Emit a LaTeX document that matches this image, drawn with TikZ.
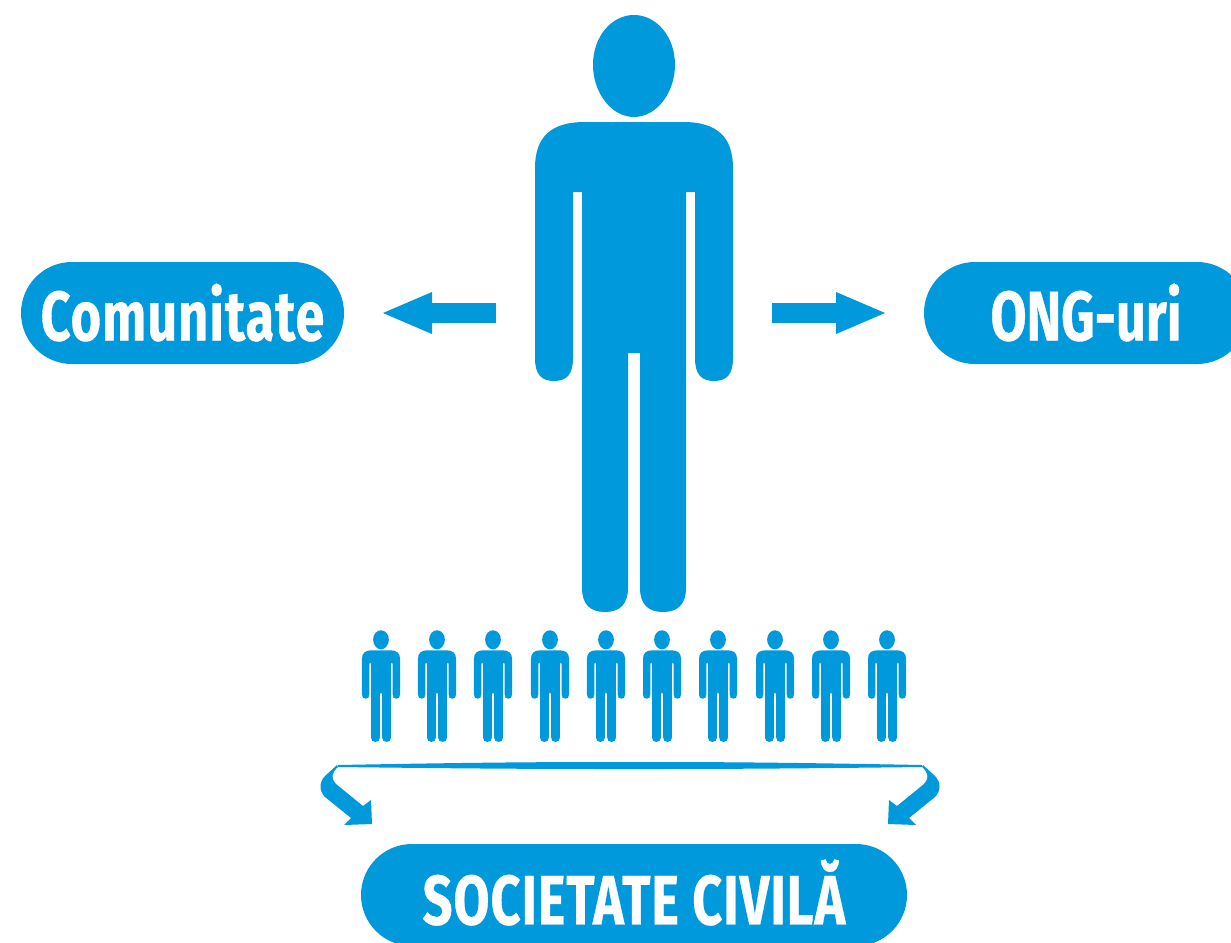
\documentclass[tikz,border=0pt]{standalone}
\usepackage{fontspec}
\usetikzlibrary{arrows.meta}
\newfontfamily\lblA[FakeStretch=0.745,FakeBold=0.5]{Fira Sans Bold}
\newfontfamily\lblB[FakeStretch=0.745,FakeBold=0.5,LetterSpace=1.5]{Fira Sans Bold}
\definecolor{ngo}{HTML}{0099DC}
\tikzset{
  pill/.style={fill=ngo,text=white,minimum height=102pt,rounded corners=51pt,inner sep=0pt,outer sep=0pt},
  blockarrow/.style={draw=ngo,line width=20pt,shorten >=39pt,shorten <=39pt,-{Triangle[length=49pt,width=42pt,line width=0pt,fill=ngo]}},
  swoosh/.style={fill=ngo,draw=none},
  person/.pic={
    \begin{scope}[shift={(-634,-313)}]
    \fill[ngo] (634,15) .. controls (656,15) and (675,36) .. (675,65) .. controls (675,92) and (657,117) .. (634,117) .. controls (611,117) and (593,92) .. (593,65) .. controls (593,36) and (612,15) .. (634,15) -- cycle;
    \fill[ngo] (585,122) -- (683,122) .. controls (716,122) and (733,136) .. (733,168) -- (733,358) .. controls (733,374) and (727,381) .. (714,381) .. controls (701,381) and (695,374) .. (695,358) -- (695,192) -- (686,192) -- (686,588) .. controls (686,604) and (678,612) .. (663,612) .. controls (648,612) and (640,604) .. (640,588) -- (640,353) -- (628,353) -- (628,588) .. controls (628,604) and (620,612) .. (605,612) .. controls (590,612) and (582,604) .. (582,588) -- (582,192) -- (573,192) -- (573,358) .. controls (573,374) and (567,381) .. (554,381) .. controls (541,381) and (535,374) .. (535,358) -- (535,168) .. controls (535,136) and (552,122) .. (585,122) -- cycle;
    \end{scope}
  }
}
\begin{document}
\begin{tikzpicture}[x=1pt,y=-1pt]
\useasboundingbox (0,0) rectangle (1231,942);
\clip (0,0) rectangle (1231,942);
\fill[white] (0,0) rectangle (1231,942);
% big figure
\node[minimum width=198pt,minimum height=598pt,inner sep=0pt,outer sep=0pt] (man) at (634,313) {};
\pic (bigman) at (634,313) {person};
% labels
\node[pill,minimum width=323pt] (comunitate) at (182.5,313) {\raisebox{2pt}{\fontsize{70}{70}\lblB Comunitate}};
\node[pill,minimum width=324pt,text width=324pt,align=center] (ong) at (1086,313) {\raisebox{2pt}{\fontsize{70}{70}\lblA ONG-uri}};
\node[pill,minimum width=546pt] (societate) at (634,895) {\raisebox{6pt}{\fontsize{70}{70}\lblB SOCIETATE CIVILĂ}};
% arrows
\draw[blockarrow] (man) -- (comunitate);
\draw[blockarrow] (man) -- (ong);
% small figures
\foreach \n/\xx in {1/381,2/437,3/493,4/550,5/606,6/662,7/718,8/775,9/831,10/887}
  \pic[xscale=.192,yscale=.187] (crowd\n) at (\xx,686) {person};
% bracket
\path[swoosh] (338,765) .. controls (500,762) and (560,762) .. (630,762) .. controls (700,762) and (760,762) .. (922,765) -- (922,767) .. controls (760,769) and (700,769) .. (630,769) .. controls (560,769) and (500,769) .. (338,767) -- cycle;
\path[swoosh] (337,765) -- (325,776) .. controls (319,782) and (319,791) .. (325,797) -- (351,818) -- (344,825) -- (372,824) -- (371,800) -- (363,806) -- (336,784) .. controls (331,779) and (331,773) .. (338,767) -- cycle;
\path[swoosh] (923,765) -- (935,776) .. controls (941,782) and (941,791) .. (935,797) -- (909,818) -- (916,825) -- (888,824) -- (889,800) -- (897,806) -- (924,784) .. controls (929,779) and (929,773) .. (922,767) -- cycle;
\end{tikzpicture}
\end{document}
